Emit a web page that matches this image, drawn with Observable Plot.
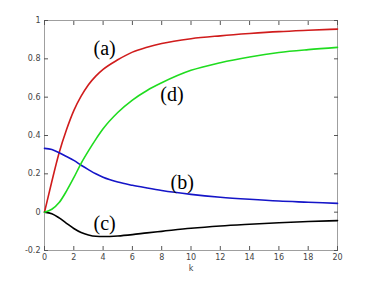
<!DOCTYPE html>
<html>
<head>
<meta charset="utf-8">
<script src="https://cdn.jsdelivr.net/npm/d3@7"></script>
<script src="https://cdn.jsdelivr.net/npm/@observablehq/plot@0.6"></script>
<style>
  html, body { margin: 0; padding: 0; background: #fff; }
  #chart { width: 369px; height: 282px; }
</style>
</head>
<body>
<div id="chart"></div>
<script>
const kValues = [0, 0.5, 1, 1.5, 2, 2.5, 3, 3.5, 4, 5, 6, 7, 8, 10, 12, 14, 16, 18, 20];
const aValues = [0, 0.16, 0.31, 0.43, 0.53, 0.605, 0.665, 0.71, 0.745, 0.795, 0.835, 0.86, 0.88, 0.905, 0.92, 0.932, 0.942, 0.949, 0.955];
const bValues = [0.333, 0.327, 0.31, 0.29, 0.27, 0.245, 0.222, 0.2, 0.182, 0.157, 0.14, 0.126, 0.113, 0.093, 0.078, 0.067, 0.058, 0.052, 0.046];
const cValues = [0, -0.008, -0.03, -0.058, -0.085, -0.106, -0.119, -0.126, -0.127, -0.124, -0.117, -0.108, -0.1, -0.084, -0.072, -0.063, -0.055, -0.049, -0.044];
const dValues = [0, 0.015, 0.05, 0.11, 0.18, 0.255, 0.32, 0.38, 0.435, 0.52, 0.585, 0.635, 0.675, 0.74, 0.78, 0.81, 0.833, 0.848, 0.86];

const seriesNames = ["(a)", "(b)", "(c)", "(d)"];
const seriesColors = ["#d01c1c", "#1515c8", "#000000", "#1fdc1f"];
const labelK = [4.1, 9.4, 4.1, 8.7];
const labelV = [0.852, 0.154, -0.06, 0.612];

const xTicks = [0, 2, 4, 6, 8, 10, 12, 14, 16, 18, 20];
const yTicks = [-0.2, 0, 0.2, 0.4, 0.6, 0.8, 1];

const allValues = [aValues, bValues, cValues, dValues];
const rows = [];
allValues.forEach((vals, i) => {
  kValues.forEach((k, j) => rows.push({k, v: vals[j], s: seriesNames[i]}));
});
const labels = seriesNames.map((s, i) => ({s, k: labelK[i], v: labelV[i]}));

const tickStyle = {stroke: "#555", fontSize: 8, fill: "#444", fontFamily: "DejaVu Sans, sans-serif"};

const chart = Plot.plot({
  width: 369,
  height: 282,
  marginLeft: 44,
  marginRight: 32,
  marginTop: 20,
  marginBottom: 32,
  style: {background: "#fff", fontFamily: "DejaVu Sans, sans-serif"},
  x: {domain: [0, 20]},
  y: {domain: [-0.2, 1]},
  color: {domain: seriesNames, range: seriesColors},
  marks: [
    Plot.frame({stroke: "#888", strokeWidth: 0.8}),
    Plot.axisX({anchor: "bottom", ticks: xTicks, tickSize: -4, tickPadding: 8, ...tickStyle, label: "k", labelAnchor: "center", labelArrow: "none", labelOffset: 20}),
    Plot.axisX({anchor: "top", ticks: xTicks, tickSize: -4, tickFormat: () => "", stroke: "#555", label: null}),
    Plot.axisY({anchor: "left", ticks: yTicks, tickSize: -4, tickPadding: 8, ...tickStyle, label: null, tickFormat: d => String(+d.toFixed(1))}),
    Plot.axisY({anchor: "right", ticks: yTicks, tickSize: -4, tickFormat: () => "", stroke: "#555", label: null}),
    Plot.line(rows, {x: "k", y: "v", z: "s", stroke: "s", strokeWidth: 1.6, curve: "monotone-x"}),
    Plot.text(labels, {x: "k", y: "v", text: "s", fontSize: 20, fontFamily: "Liberation Serif, serif", fill: "#000"})
  ]
});
document.getElementById("chart").appendChild(chart);
</script>
</body>
</html>
